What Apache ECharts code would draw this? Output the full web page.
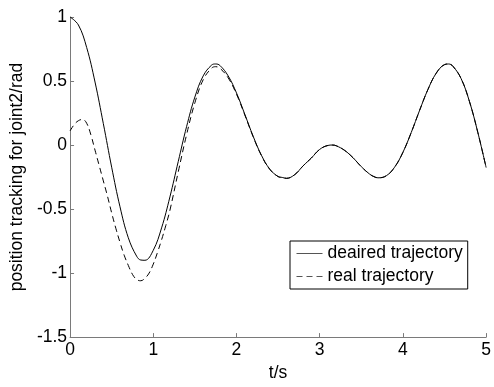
<!DOCTYPE html>
<html>
<head>
<meta charset="utf-8">
<script src="https://cdn.jsdelivr.net/npm/echarts@6/dist/echarts.min.js"></script>
<style>
  html, body { margin: 0; padding: 0; background: #fff; }
  #chart { width: 494px; height: 387px; }
</style>
</head>
<body>
<div id="chart"></div>
<script>
// 期望轨迹 (t 每 0.1 s, 极值处加点)
var desiredT = [0, 0.1, 0.2, 0.3, 0.4, 0.5, 0.6, 0.7, 0.8, 0.85, 0.9,
    1.0, 1.1, 1.2, 1.3, 1.4, 1.5, 1.6, 1.7, 1.75, 1.8, 1.9,
    2.0, 2.1, 2.2, 2.3, 2.4, 2.5, 2.55, 2.6, 2.7, 2.8, 2.9,
    3.0, 3.1, 3.15, 3.2, 3.3, 3.4, 3.5, 3.6, 3.65, 3.7, 3.8, 3.9,
    4.0, 4.1, 4.2, 4.3, 4.4, 4.5, 4.55, 4.6, 4.7, 4.8, 4.9, 5.0];
var desiredY = [1.000, 0.938, 0.761, 0.492, 0.167, -0.173, -0.482, -0.724, -0.868, -0.898, -0.900,
    -0.822, -0.647, -0.405, -0.129, 0.143, 0.375, 0.540, 0.624, 0.633, 0.622, 0.540,
    0.407, 0.240, 0.069, -0.080, -0.188, -0.246, -0.253, -0.260, -0.231, -0.163, -0.101,
    -0.034, -0.003, 0.000, -0.006, -0.042, -0.099, -0.169, -0.227, -0.246, -0.256, -0.240, -0.173,
    -0.057, 0.098, 0.270, 0.433, 0.561, 0.628, 0.633, 0.616, 0.518, 0.339, 0.099, -0.176];

// 实际轨迹
var realT = [0, 0.05, 0.1, 0.15, 0.2, 0.25, 0.3, 0.35, 0.4, 0.45,
    0.5, 0.55, 0.6, 0.65, 0.7, 0.75, 0.8, 0.85, 0.9, 0.95,
    1.0, 1.05, 1.1, 1.15, 1.2, 1.3, 1.4, 1.5, 1.6, 1.7, 1.75,
    1.8, 1.9, 2.0, 2.1, 2.2, 2.3, 2.4, 2.5, 2.55, 2.6, 2.7, 2.8, 2.9,
    3.0, 3.1, 3.15, 3.2, 3.3, 3.4, 3.5, 3.6, 3.65, 3.7, 3.8, 3.9,
    4.0, 4.1, 4.2, 4.3, 4.4, 4.5, 4.55, 4.6, 4.7, 4.8, 4.9, 5.0];
var realY = [0.11, 0.16, 0.19, 0.20, 0.17, 0.08, -0.04, -0.16, -0.28, -0.40,
    -0.53, -0.65, -0.76, -0.86, -0.94, -1.01, -1.05, -1.06, -1.04, -1.00,
    -0.93, -0.84, -0.74, -0.63, -0.51, -0.21, 0.08, 0.33, 0.51, 0.60, 0.612,
    0.60, 0.525, 0.397, 0.235, 0.065, -0.083, -0.190, -0.246, -0.253, -0.260, -0.231, -0.163, -0.101,
    -0.034, -0.003, 0.000, -0.006, -0.042, -0.099, -0.169, -0.227, -0.246, -0.256, -0.240, -0.173,
    -0.057, 0.098, 0.270, 0.433, 0.561, 0.628, 0.633, 0.616, 0.518, 0.339, 0.099, -0.176];

var xTicks = [0, 1, 2, 3, 4, 5];
var yTicks = [-1.5, -1, -0.5, 0, 0.5, 1];
var seriesNames = ['deaired trajectory', 'real trajectory'];

function pairs(xs, ys){
    var arr = [];
    for(var i=0;i<xs.length;i++){
        arr.push([xs[i], ys[i]]);
    }
    return arr;
}

var font = 'Liberation Sans, Arial, Helvetica, sans-serif';
var axisGray = '#7a7a7a';

var option = {
    animation: false,
    backgroundColor: '#fff',
    grid: {
        left: 69,
        top: 17,
        right: 3,
        bottom: 40,
        containLabel: false
    },
    legend: {
        orient: 'vertical',
        left: 290,
        top: 241,
        data: seriesNames,
        itemWidth: 26,
        itemHeight: 14,
        itemGap: 4,
        padding: [3, 5, 3, 6],
        borderColor: '#000',
        borderWidth: 1,
        borderRadius: 0,
        backgroundColor: '#fff',
        itemStyle: { opacity: 0 },
        lineStyle: { width: 1, color: '#555' },
        textStyle: {
            fontFamily: font,
            fontSize: 17.5,
            color: '#000',
            lineHeight: 19
        }
    },
    xAxis: {
        type: 'value',
        min: xTicks[0],
        max: xTicks[xTicks.length - 1],
        interval: 1,
        name: 't/s',
        nameLocation: 'middle',
        nameGap: 20,
        nameTextStyle: { fontFamily: font, fontSize: 17.5, color: '#000' },
        axisLine: { onZero: false, lineStyle: { color: axisGray, width: 1 } },
        axisTick: { inside: true, length: 4, lineStyle: { color: axisGray } },
        axisLabel: { fontFamily: font, fontSize: 17.5, color: '#000', margin: 4,
            alignMinLabel: 'center', alignMaxLabel: 'center' },
        splitLine: { show: false }
    },
    yAxis: {
        type: 'value',
        min: yTicks[0],
        max: yTicks[yTicks.length - 1],
        interval: 0.5,
        name: 'position tracking for joint2/rad',
        nameLocation: 'middle',
        nameGap: 27,
        nameTextStyle: { fontFamily: font, fontSize: 17.5, color: '#000' },
        axisLine: { show: true, onZero: false, lineStyle: { color: axisGray, width: 1 } },
        axisTick: { show: true, inside: true, length: 4, lineStyle: { color: axisGray } },
        axisLabel: { fontFamily: font, fontSize: 17.5, color: '#000', margin: 3 },
        splitLine: { show: false }
    },
    series: [{
        name: seriesNames[0],
        type: 'line',
        smooth: 0.4,
        symbol: 'none',
        data: pairs(desiredT, desiredY),
        lineStyle: { color: '#000', width: 1, type: 'solid' },
        itemStyle: { color: '#000' }
    },
    {
        name: seriesNames[1],
        type: 'line',
        smooth: 0.4,
        symbol: 'none',
        data: pairs(realT, realY),
        lineStyle: { color: '#000', width: 1, type: [6, 4] },
        itemStyle: { color: '#000' }
    }]
};

var myChart = echarts.init(document.getElementById('chart'));
myChart.setOption(option);
</script>
</body>
</html>
